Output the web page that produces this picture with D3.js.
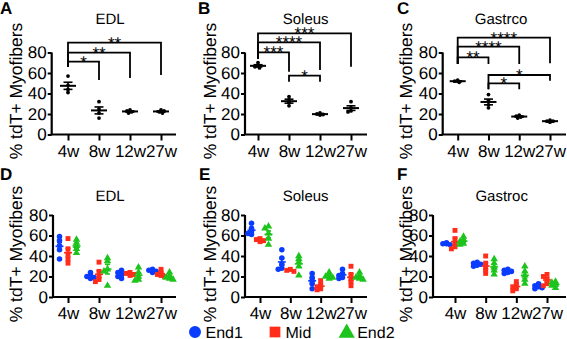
<!DOCTYPE html>
<html>
<head>
<meta charset="utf-8">
<script src="https://cdn.jsdelivr.net/npm/d3@7"></script>
<style>
  body { margin: 0; background: #fff; }
  svg { display: block; font-family: "Liberation Sans", Arial, Helvetica, sans-serif; }
  text { text-rendering: geometricPrecision; }
</style>
</head>
<body>
<div id="chart"></div>
<script>
const weeks = ["4w", "8w", "12w", "27w"];
const yTicks = [0, 20, 40, 60, 80];
const yLabel = "% tdT+ Myofibers";
const regions = ["End1", "Mid", "End2"];
const topTitles = ["EDL", "Soleus", "Gastrco"];
const bottomTitles = ["EDL", "Soleus", "Gastroc"];
const topLetters = ["A", "B", "C"];
const bottomLetters = ["D", "E", "F"];

// A-C: whole muscle, one array per week
const edlTotal = [[57, 48, 44, 41], [32, 25, 21, 16], [24, 23, 22, 21], [24, 22, 21, 23]];
const soleusTotal = [[70, 67, 66, 65], [37, 34, 31, 28], [21, 20, 19.5, 19], [32, 26, 23, 22]];
const gastrocTotal = [[53, 52, 51, 52], [39, 33, 29, 26], [19, 18, 17, 16], [14, 13, 13, 12]];

// significance brackets
const edlSigPairs = [["4w", "8w"], ["4w", "12w"], ["4w", "27w"]];
const edlSigLabels = ["*", "**", "**"];
const soleusSigPairs = [["4w", "8w"], ["4w", "12w"], ["4w", "27w"], ["8w", "12w"]];
const soleusSigLabels = ["***", "****", "***", "*"];
const gastrocSigPairs = [["4w", "8w"], ["4w", "12w"], ["4w", "27w"], ["8w", "12w"], ["8w", "27w"]];
const gastrocSigLabels = ["**", "****", "****", "*", "*"];

// D-F: by region (End1, Mid, End2), one array per week
const edlEnd1 = [[59, 55, 50, 46, 37], [24, 21, 20, 19, 18], [26, 24, 22, 20, 18], [27, 26, 25, 24]];
const edlMid = [[57, 47, 42, 37, 33], [34, 25, 20, 17, 15], [24, 23, 22, 21], [27, 24, 22, 21, 20]];
const edlEnd2 = [[56, 53, 50, 47, 43], [38, 35, 27, 25, 11], [29, 24, 20, 17, 16], [24, 21, 19, 18, 17]];
const soleusEnd1 = [[72, 67, 64, 62, 61], [46, 38, 32, 28, 27], [23, 19, 16, 13, 8], [27, 23, 21, 19, 18]];
const soleusMid = [[57, 56, 55, 54], [27, 26, 25], [16, 12, 10, 8, 7], [30, 22, 18, 15, 11]];
const soleusEnd2 = [[69, 67, 62, 57, 51], [40, 37, 34, 30, 21], [24, 21, 20, 19, 18], [24, 21, 19, 18, 17]];
const gastrocEnd1 = [[53, 52, 51, 52], [34, 33, 32, 31, 30], [27, 26, 25, 24, 23], [13, 11, 10, 9, 8]];
const gastrocMid = [[65, 57, 52, 49, 47], [40, 33, 29, 26, 23], [15, 12, 10, 8, 6], [22, 20, 17, 13, 11]];
const gastrocEnd2 = [[59, 56, 54, 52, 51], [37, 33, 29, 26, 22], [30, 25, 21, 17, 13], [15, 14, 12, 11, 9]];

const colors = ["#0a3cff", "#ff2d1a", "#1cc41c"];
const font = "17px";

const svg = d3.select("#chart").append("svg")
    .attr("width", 567)
    .attr("height", 339);

// layout of each panel
const topLayout = [
  { axisX: 51.7, x0: 68, x1: 161, xEnd: 176, labelX: 16.7, letterX: 0, titleX: 110,
    brackets: [{ y: 61.7, la: 66.7, lb: 80 }, { y: 52.7, la: 66.7, lb: 78 }, { y: 42.7, la: 66.7, lb: 75 }] },
  { axisX: 245, x0: 258, x1: 351, xEnd: 367, labelX: 210, letterX: 198, titleX: 305.7,
    brackets: [{ y: 52.3, la: 59, lb: 71.7 }, { y: 42.3, la: 59, lb: 70 }, { y: 33.3, la: 59, lb: 66.7 }, { y: 75.7, la: 81.7, lb: 81.7 }] },
  { axisX: 442.7, x0: 457.7, x1: 550, xEnd: 566, labelX: 406.7, letterX: 397, titleX: 501,
    brackets: [{ y: 57.3, la: 64, lb: 64 }, { y: 46.7, la: 64, lb: 64 }, { y: 37.7, la: 64, lb: 63.3 }, { y: 83.3, la: 89.3, lb: 89.3 }, { y: 75, la: 89.3, lb: 80.7 }] }
];
const bottomLayout = [
  { axisX: 53, x0: 68, x1: 161, xEnd: 176, labelX: 16.7, letterX: 0, titleX: 110 },
  { axisX: 245, x0: 260, x1: 351, xEnd: 367, labelX: 210, letterX: 199, titleX: 305.7 },
  { axisX: 433, x0: 455, x1: 547, xEnd: 566, labelX: 406.7, letterX: 397, titleX: 501.7 }
];

// tight beeswarm: only nudge dots sideways when they nearly coincide
function swarm(vals, y, cx, step, minDist) {
  const placed = [];
  return vals.map(v => {
    const py = y(v);
    let px = cx;
    for (const k of [0, -1, 1, -2, 2]) {
      const cand = cx + k * step;
      if (placed.every(p => Math.hypot(p[0] - cand, p[1] - py) >= minDist)) { px = cand; break; }
    }
    placed.push([px, py]);
    return [px, py];
  });
}

function drawAxes(L, x, y, yLabelY, letterY, titleY) {
  svg.append("g")
      .attr("transform", `translate(${L.axisX},0)`)
      .call(d3.axisLeft(y).tickValues(yTicks).tickSize(4).tickPadding(1))
      .call(g => g.select(".domain").attr("stroke-width", 2.2).attr("d", `M-0,${y(0)}V${y(80)}`))
      .call(g => g.selectAll(".tick line").attr("stroke-width", 2))
      .call(g => g.selectAll("text").attr("font-size", font).attr("fill", "#000").attr("font-family", null));

  svg.append("g")
      .attr("transform", `translate(0,${y(0)})`)
      .call(d3.axisBottom(x).tickSize(6).tickPadding(4))
      .call(g => g.select(".domain").attr("stroke-width", 2.2).attr("d", `M${L.axisX - 1},0H${L.xEnd}`))
      .call(g => g.selectAll(".tick line").attr("stroke-width", 2))
      .call(g => g.selectAll("text").attr("font-size", font).attr("fill", "#000").attr("font-family", null));

  svg.append("text")
      .attr("transform", `translate(${L.labelX + 5.5},${yLabelY}) rotate(-90)`)
      .attr("text-anchor", "middle")
      .attr("font-size", "17.5px")
      .text(yLabel);

  svg.append("text")
      .attr("x", L.letterX).attr("y", letterY)
      .attr("font-size", "17px").attr("font-weight", "bold")
      .text(L.letter);

  svg.append("text")
      .attr("x", L.titleX).attr("y", titleY)
      .attr("text-anchor", "middle")
      .attr("font-size", "15px")
      .text(L.title);
}

// top row: A, B, C
const topData = [edlTotal, soleusTotal, gastrocTotal];
const topPairs = [edlSigPairs, soleusSigPairs, gastrocSigPairs];
const topLabels = [edlSigLabels, soleusSigLabels, gastrocSigLabels];

topLayout.forEach((L, i) => {
  L.letter = topLetters[i];
  L.title = topTitles[i];
  const x = d3.scalePoint().domain(weeks).range([L.x0, L.x1]);
  const y = d3.scaleLinear().domain([0, 80]).range([134.5, 52.5]);
  drawAxes(L, x, y, 91, 14, 24);

  weeks.forEach((w, j) => {
    const vals = topData[i][j];
    const m = d3.mean(vals);
    const se = d3.deviation(vals) / Math.sqrt(vals.length);
    const cx = x(w);
    svg.append("g").selectAll("circle")
        .data(swarm(vals, y, cx, 1.5, 2.2))
        .join("circle")
        .attr("cx", d => d[0]).attr("cy", d => d[1]).attr("r", 1.9)
        .attr("fill", "#000");
    const eb = svg.append("g").attr("stroke", "#000").attr("stroke-width", 1.6).attr("fill", "none");
    eb.append("line").attr("x1", cx - 8).attr("x2", cx + 8).attr("y1", y(m)).attr("y2", y(m)).attr("stroke-width", 2);
    eb.append("line").attr("x1", cx).attr("x2", cx).attr("y1", y(m - se)).attr("y2", y(m + se));
    eb.append("line").attr("x1", cx - 4.5).attr("x2", cx + 4.5).attr("y1", y(m - se)).attr("y2", y(m - se));
    eb.append("line").attr("x1", cx - 4.5).attr("x2", cx + 4.5).attr("y1", y(m + se)).attr("y2", y(m + se));
  });

  topPairs[i].forEach((p, k) => {
    const b = L.brackets[k];
    const xa = x(p[0]), xb = x(p[1]);
    svg.append("path")
        .attr("d", `M${xa},${b.la}V${b.y}H${xb}V${b.lb}`)
        .attr("fill", "none").attr("stroke", "#000").attr("stroke-width", 1.8);
    svg.append("text")
        .attr("x", (xa + xb) / 2).attr("y", b.y + 6)
        .attr("text-anchor", "middle")
        .attr("font-size", "17px")
        .attr("fill", "#000")
        .text(topLabels[i][k]);
  });
});

// bottom row: D, E, F
const bottomData = [
  [edlEnd1, edlMid, edlEnd2],
  [soleusEnd1, soleusMid, soleusEnd2],
  [gastrocEnd1, gastrocMid, gastrocEnd2]
];
const symbols = [d3.symbolCircle, d3.symbolSquare, d3.symbolTriangle];

bottomLayout.forEach((L, i) => {
  L.letter = bottomLetters[i];
  L.title = bottomTitles[i];
  const x = d3.scalePoint().domain(weeks).range([L.x0, L.x1]);
  const y = d3.scaleLinear().domain([0, 80]).range([297, 215]);
  const sub = d3.scalePoint().domain(regions).range([-8.5, 8.5]);
  drawAxes(L, x, y, 254, 180, 201);

  regions.forEach((r, ri) => {
    weeks.forEach((w, j) => {
      const vals = bottomData[i][ri][j];
      const m = d3.mean(vals);
      const se = d3.deviation(vals) / Math.sqrt(vals.length);
      const cx = x(w) + sub(r);
      svg.append("g").selectAll("path")
          .data(swarm(vals, y, cx, 1.8, 3))
          .join("path")
          .attr("transform", d => `translate(${d[0]},${d[1]})`)
          .attr("d", d3.symbol().type(symbols[ri]).size(24))
          .attr("fill", colors[ri]);
      const eb = svg.append("g").attr("stroke", colors[ri]).attr("stroke-width", 1.6);
      eb.append("line").attr("x1", cx - 4).attr("x2", cx + 4).attr("y1", y(m)).attr("y2", y(m));
      eb.append("line").attr("x1", cx).attr("x2", cx).attr("y1", y(m - se)).attr("y2", y(m + se));
      eb.append("line").attr("x1", cx - 2.5).attr("x2", cx + 2.5).attr("y1", y(m - se)).attr("y2", y(m - se));
      eb.append("line").attr("x1", cx - 2.5).attr("x2", cx + 2.5).attr("y1", y(m + se)).attr("y2", y(m + se));
    });
  });
});

// legend
const legendX = [195, 275, 346.7];
const legend = svg.append("g").attr("transform", "translate(0,332)");
regions.forEach((r, ri) => {
  legend.append("path")
      .attr("transform", `translate(${legendX[ri]},${ri === 2 ? 1 : 0})`)
      .attr("d", d3.symbol().type(symbols[ri]).size(ri === 0 ? 113 : 115))
      .attr("fill", colors[ri]);
  legend.append("text")
      .attr("x", legendX[ri] + 10.5).attr("y", 5.8)
      .attr("font-size", "16px")
      .text(r);
});
</script>
</body>
</html>
